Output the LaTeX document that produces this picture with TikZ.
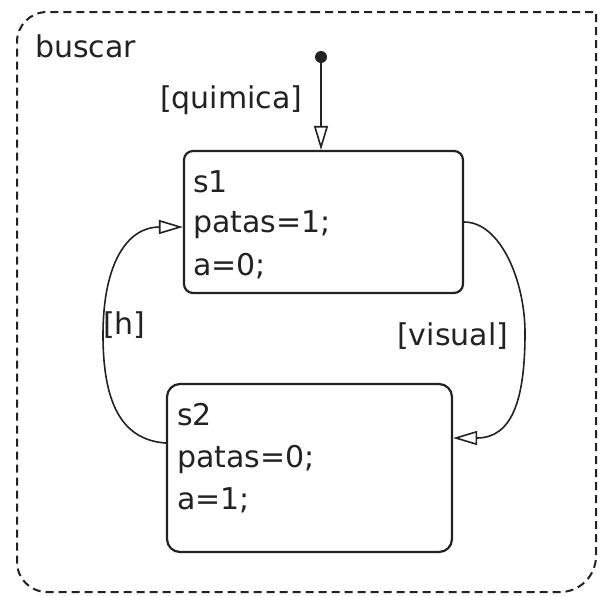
\documentclass[tikz,border=0pt]{standalone}
\usepackage{fontspec}
\setmainfont{DejaVu Sans}
\usetikzlibrary{arrows.meta,calc}
\definecolor{ink}{HTML}{222222}
\begin{document}
\begin{tikzpicture}[x=1pt,y=-1pt,
  every node/.style={text=ink, font=\fontsize{30}{36}\selectfont},
  statebox/.style={draw=ink, line width=2.2pt, rounded corners=9pt, inner sep=0pt},
  stxt/.style={anchor=base west, inner sep=0pt},
  lbl/.style={anchor=base west, inner sep=0pt},
  trans/.style={draw=ink, line width=1.6pt, -{Triangle[open, length=24pt, width=14pt, line width=1.6pt]}},
  outerbox/.style={draw=ink, line width=2pt, dash pattern=on 8pt off 5pt}
]
\useasboundingbox (0,0) rectangle (601,595);
% outer superstate
\draw[outerbox] (300,12) -- (596,12) [rounded corners=36pt] -- (596,592) [rounded corners=30pt] -- (17,592) [rounded corners=30pt] -- (17,12) [rounded corners=12pt] -- cycle;
\node[lbl] (buscar) at (35,57) {buscar};
% states
\node[statebox, minimum width=279pt, minimum height=142pt] (s1) at (323.5,222) {};
\node[statebox, minimum width=285pt, minimum height=168pt, rounded corners=13pt] (s2) at (309.5,468) {};
\node[stxt] (s1a) at (193,192) {s1};
\node[stxt] (s1b) at (193,232) {patas=1;};
\node[stxt] (s1c) at (193,275) {a=0;};
\node[stxt] (s2a) at (177,425) {s2};
\node[stxt] (s2b) at (177,467) {patas=0;};
\node[stxt] (s2c) at (177,509) {a=1;};
% default transition
\node[circle, fill=ink, inner sep=0pt, minimum size=12pt] (init) at (321,57) {};
\draw[trans] (init.south) -- (init.south |- s1.north);
\node[lbl] (lq) at (160,108) {[quimica]};
% transitions
\coordinate (s2out) at ([yshift=25pt]s2.west);
\coordinate (s1in) at ([yshift=-5pt]s1.west);
\draw[trans] (s2out) .. controls (120,440) and (103,400) .. (103,335) .. controls (103,262) and (128,227) .. (s1in);
\node[lbl] (lh) at (103,334) {[h]};
\coordinate (s2in) at ([yshift=30pt]s2.east);
\draw[trans] (s1.east) .. controls (500,222) and (525,280) .. (525,333) .. controls (525,400) and (512,438) .. (s2in);
\node[lbl] (lv) at (397,345) {[visual]};
\end{tikzpicture}
\end{document}
